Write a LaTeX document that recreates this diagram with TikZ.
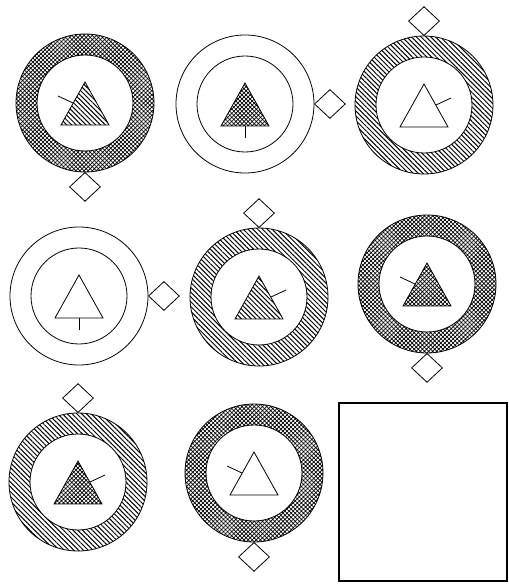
\documentclass[tikz,border=0pt]{standalone}
\usetikzlibrary{shapes.geometric,patterns.meta,calc}

\tikzset{
    quadrillage/.style={pattern={Hatch[angle=45,distance=2.9pt,line width=0.7pt]}},
    hachures/.style={pattern={Lines[angle=-45,distance=3.4pt,line width=1pt]}},
    vide/.style={fill=white},
    losange/.style={draw, diamond, fill=white, minimum width=31pt, minimum height=29pt, inner sep=0pt},
}

\begin{document}
\begin{tikzpicture}[x=1pt,y=1pt,line width=0.8pt]
    \useasboundingbox (0,0) rectangle (509,587);

    % Cases : centre, anneau, triangle, trait, losange
    \foreach \i/\cx/\cy/\anneau/\tri/\sx/\sy/\ex/\ey/\ang/\ancre in {
        1/85/484/quadrillage/hachures/-12/0/-27/7/-90/north,
        2/245/483/vide/quadrillage/0/-22/0/-34/0/west,
        3/424/482/hachures/vide/12/0/27/7/90/south,
        4/79/291/vide/vide/0/-22/0/-34/0/west,
        5/259/290/hachures/hachures/12/0/27/7/90/south,
        6/427/303/quadrillage/quadrillage/-12/0/-27/7/-90/north,
        7/78/105/hachures/quadrillage/12/0/27/7/90/south,
        8/254/114/quadrillage/vide/-12/0/-27/7/-90/north} {
        \coordinate (c\i) at (\cx,\cy);
        \draw[\anneau, even odd rule] (c\i) circle (69) (c\i) circle (48);
        \draw[\tri] ($(c\i)+(0,21)$) -- ($(c\i)+(24,-22)$) -- ($(c\i)+(-24,-22)$) -- cycle;
        \draw ($(c\i)+(\sx,\sy)$) -- ($(c\i)+(\ex,\ey)$);
        \node[losange, anchor=\ancre] (l\i) at ($(c\i)+(\ang:69)$) {};
    }

    % Case vide
    \draw[line width=1.6pt] (339,6) rectangle (507,184);
\end{tikzpicture}
\end{document}
